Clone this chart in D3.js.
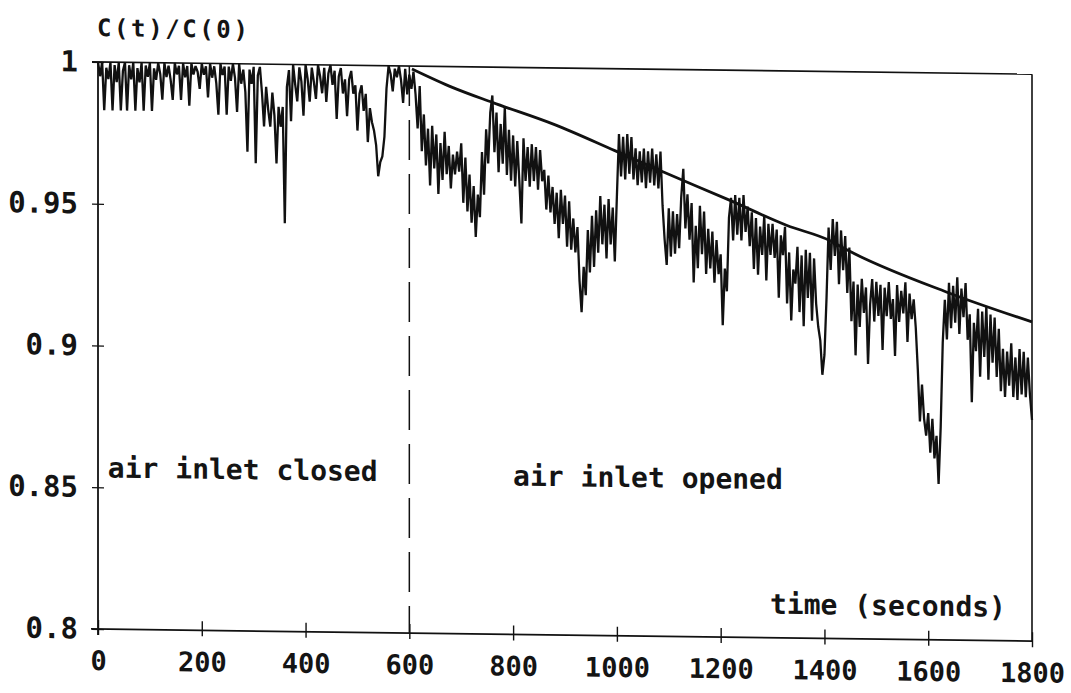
<!DOCTYPE html>
<html>
<head>
<meta charset="utf-8">
<script src="https://cdn.jsdelivr.net/npm/d3@7"></script>
<style>
  html, body { margin: 0; padding: 0; background: #ffffff; }
  svg { display: block; }
  text { font-family: "DejaVu Sans Mono", "Liberation Mono", monospace; font-weight: bold; fill: #141414; }
</style>
</head>
<body>
<svg id="chart" width="1071" height="693"></svg>
<script>
// Concentration ratio C(t)/C(0), one sample every 4 seconds from 0 to 1800 s
const sampleStep = 4;
const ratio = [
  // 0-96 s
  1.000,0.995,1.000,0.983,0.998,0.994,1.000,0.983,0.999,0.993,1.000,0.983,0.997,1.000,0.983,0.999,0.994,1.000,0.983,0.998,0.993,1.000,0.983,0.999,0.995,
  // 100-196 s
  1.000,0.983,0.998,0.994,1.000,0.996,0.987,1.000,0.995,0.999,0.994,0.987,1.000,0.996,0.999,0.987,1.000,0.995,0.999,0.985,1.000,0.996,0.999,0.997,0.991,
  // 200-296 s
  1.000,0.996,0.999,0.988,1.000,0.995,0.999,0.993,0.982,1.000,0.996,0.999,0.982,0.999,0.994,1.000,0.995,0.983,1.000,0.993,0.998,0.990,0.969,0.998,0.993,
  // 300-396 s
  0.999,0.965,0.996,0.999,0.990,0.978,0.992,0.984,0.978,0.990,0.982,0.965,0.985,0.978,0.985,0.944,0.992,0.998,0.980,1.000,0.993,0.987,0.999,0.994,0.982,
  // 400-496 s
  1.000,0.995,0.987,0.999,0.994,0.988,1.000,0.996,0.990,0.999,0.987,0.997,1.000,0.993,0.998,0.981,0.996,0.999,0.990,0.995,0.982,0.995,0.998,0.990,0.993,
  // 500-596 s
  0.977,0.990,0.993,0.984,0.990,0.973,0.985,0.980,0.977,0.972,0.961,0.966,0.968,0.975,0.992,1.000,0.997,0.991,0.999,0.996,1.000,0.995,0.987,0.999,0.990,
  // 600-696 s
  0.997,0.992,0.998,0.990,0.978,0.993,0.970,0.983,0.965,0.978,0.958,0.979,0.964,0.976,0.955,0.973,0.960,0.977,0.962,0.972,0.957,0.969,0.962,0.970,0.963,
  // 700-796 s
  0.973,0.952,0.968,0.949,0.962,0.945,0.958,0.940,0.955,0.947,0.970,0.955,0.978,0.966,0.984,0.990,0.970,0.984,0.963,0.980,0.966,0.986,0.962,0.978,0.960,
  // 800-896 s
  0.976,0.958,0.974,0.960,0.945,0.975,0.960,0.972,0.958,0.973,0.960,0.972,0.957,0.971,0.960,0.964,0.950,0.962,0.949,0.958,0.945,0.956,0.940,0.957,0.945,
  // 900-996 s
  0.955,0.937,0.953,0.936,0.947,0.935,0.944,0.925,0.914,0.930,0.920,0.943,0.928,0.948,0.930,0.950,0.935,0.955,0.938,0.952,0.933,0.954,0.938,0.951,0.932,
  // 1000-1096 s
  0.955,0.977,0.962,0.976,0.961,0.977,0.963,0.976,0.961,0.972,0.959,0.971,0.960,0.972,0.958,0.971,0.960,0.972,0.959,0.970,0.958,0.971,0.952,0.940,0.931,
  // 1100-1196 s
  0.951,0.934,0.950,0.935,0.949,0.937,0.955,0.965,0.944,0.956,0.940,0.953,0.925,0.945,0.930,0.952,0.935,0.950,0.928,0.944,0.930,0.943,0.925,0.940,0.928,
  // 1200-1296 s
  0.935,0.910,0.930,0.922,0.948,0.955,0.940,0.956,0.942,0.955,0.940,0.956,0.943,0.952,0.938,0.950,0.930,0.948,0.928,0.945,0.935,0.949,0.926,0.946,0.935,
  // 1300-1396 s
  0.946,0.934,0.944,0.920,0.942,0.935,0.945,0.918,0.936,0.912,0.930,0.925,0.938,0.915,0.935,0.910,0.937,0.920,0.936,0.912,0.934,0.918,0.910,0.905,0.893,
  // 1400-1496 s
  0.900,0.920,0.945,0.930,0.948,0.935,0.947,0.925,0.944,0.930,0.942,0.922,0.938,0.912,0.926,0.900,0.925,0.910,0.927,0.915,0.924,0.897,0.918,0.927,0.912,
  // 1500-1596 s
  0.926,0.914,0.925,0.902,0.924,0.914,0.926,0.913,0.920,0.900,0.925,0.912,0.923,0.915,0.926,0.905,0.922,0.913,0.920,0.910,0.895,0.877,0.890,0.878,0.872,
  // 1600-1696 s
  0.880,0.866,0.878,0.864,0.872,0.855,0.875,0.905,0.920,0.906,0.926,0.910,0.925,0.912,0.928,0.908,0.924,0.914,0.926,0.906,0.915,0.884,0.912,0.902,0.917,
  // 1700-1796 s
  0.893,0.916,0.900,0.918,0.892,0.915,0.898,0.914,0.893,0.910,0.888,0.903,0.886,0.902,0.890,0.905,0.886,0.900,0.885,0.903,0.887,0.902,0.886,0.900,0.887,
  // 1800 s
  0.878
];

// Smooth decay curve drawn after the air inlet is opened
const fitTimes  = [605, 684, 761, 880, 996, 1083, 1218, 1328, 1410, 1445, 1636, 1800];
const fitValues = [0.999, 0.9926, 0.9875, 0.980, 0.9711, 0.9643, 0.9541, 0.9455, 0.9404, 0.937, 0.9227, 0.9126];

const xTicks = [0, 200, 400, 600, 800, 1000, 1200, 1400, 1600, 1800];
const yTicks = [0.8, 0.85, 0.9, 0.95, 1];
const yTickLabels = ["0.8", "0.85", "0.9", "0.95", "1"];

const switchTime = 600;
const notes = [
  { text: "air inlet closed", t: 19,   v: 0.8535 },
  { text: "air inlet opened", t: 800,  v: 0.8525 }
];
const yTitle = "C(t)/C(0)";
const xTitle = "time (seconds)";

// ---- layout ----
const ink = "#111111";
const plotLeft = 98, plotRight = 1032, plotTop = 62, plotBottom = 629;
const skewDeg = 0.745;          // the whole sheet leans slightly to the right

const x = d3.scaleLinear().domain([0, 1800]).range([plotLeft, plotRight]);
const y = d3.scaleLinear().domain([0.8, 1]).range([plotBottom, plotTop]);

const svg = d3.select("#chart");
svg.append("rect").attr("width", 1071).attr("height", 693).attr("fill", "#fff");

const g = svg.append("g")
  .attr("transform", `translate(${plotLeft},0) skewY(${skewDeg}) translate(${-plotLeft},0)`);

// frame: top and right edges
g.append("line").attr("x1", plotLeft - 6).attr("x2", plotRight).attr("y1", y(1)).attr("y2", y(1))
  .attr("stroke", ink).attr("stroke-width", 1.6);
g.append("line").attr("x1", plotRight).attr("x2", plotRight).attr("y1", y(1)).attr("y2", y(0.8))
  .attr("stroke", ink).attr("stroke-width", 1.6);

// x axis
const xAxis = g.append("g").attr("transform", `translate(0,${y(0.8)})`)
  .call(d3.axisBottom(x).tickValues(xTicks).tickFormat(d3.format("d"))
    .tickSizeOuter(0).tickSize(6).tickPadding(16));
xAxis.select(".domain").remove();
xAxis.selectAll(".tick line").attr("y1", -9).attr("y2", 6).attr("stroke", ink).attr("stroke-width", 1.4);
xAxis.selectAll(".tick text").attr("font-size", 27).attr("fill", ink)
  .attr("font-family", "DejaVu Sans Mono, monospace").attr("font-weight", "bold");
g.append("line").attr("x1", plotLeft - 7).attr("x2", plotRight).attr("y1", y(0.8)).attr("y2", y(0.8))
  .attr("stroke", ink).attr("stroke-width", 1.8);

// y axis
const yAxis = g.append("g").attr("transform", `translate(${plotLeft},0)`)
  .call(d3.axisLeft(y).tickValues(yTicks).tickFormat((d, i) => yTickLabels[i])
    .tickSizeOuter(0).tickSize(6).tickPadding(14));
yAxis.select(".domain").remove();
yAxis.selectAll(".tick line").attr("x1", -6).attr("x2", 6).attr("stroke", ink).attr("stroke-width", 1.4);
yAxis.selectAll(".tick text").attr("font-size", 29).attr("fill", ink)
  .attr("font-family", "DejaVu Sans Mono, monospace").attr("font-weight", "bold");
g.append("line").attr("x1", plotLeft).attr("x2", plotLeft).attr("y1", y(1)).attr("y2", y(0.8) + 6)
  .attr("stroke", ink).attr("stroke-width", 1.8);

// dashed marker where the inlet is opened
g.append("line").attr("x1", x(switchTime)).attr("x2", x(switchTime))
  .attr("y1", y(1)).attr("y2", y(0.8))
  .attr("stroke", ink).attr("stroke-width", 1.5).attr("stroke-dasharray", "40,14");

// measured trace
const trace = d3.line()
  .x((d, i) => x(i * sampleStep))
  .y(d => y(d));
g.append("path").datum(ratio).attr("d", trace)
  .attr("fill", "none").attr("stroke", ink).attr("stroke-width", 2.3)
  .attr("stroke-linejoin", "miter").attr("stroke-miterlimit", 2);

// decay curve
const fitLine = d3.line().curve(d3.curveMonotoneX)
  .x(d => x(d[0])).y(d => y(d[1]));
g.append("path").datum(fitTimes.map((t, i) => [t, fitValues[i]])).attr("d", fitLine)
  .attr("fill", "none").attr("stroke", ink).attr("stroke-width", 2.8);

// annotations
g.selectAll("text.note").data(notes).join("text").attr("class", "note")
  .attr("x", d => x(d.t)).attr("y", d => y(d.v))
  .attr("font-size", 28).text(d => d.text);

g.append("text").attr("x", x(1295)).attr("y", y(0.8085))
  .attr("font-size", 28).text(xTitle);

g.append("text").attr("x", 97).attr("y", 36)
  .attr("font-size", 24).attr("letter-spacing", 2.6).text(yTitle);
</script>
</body>
</html>
